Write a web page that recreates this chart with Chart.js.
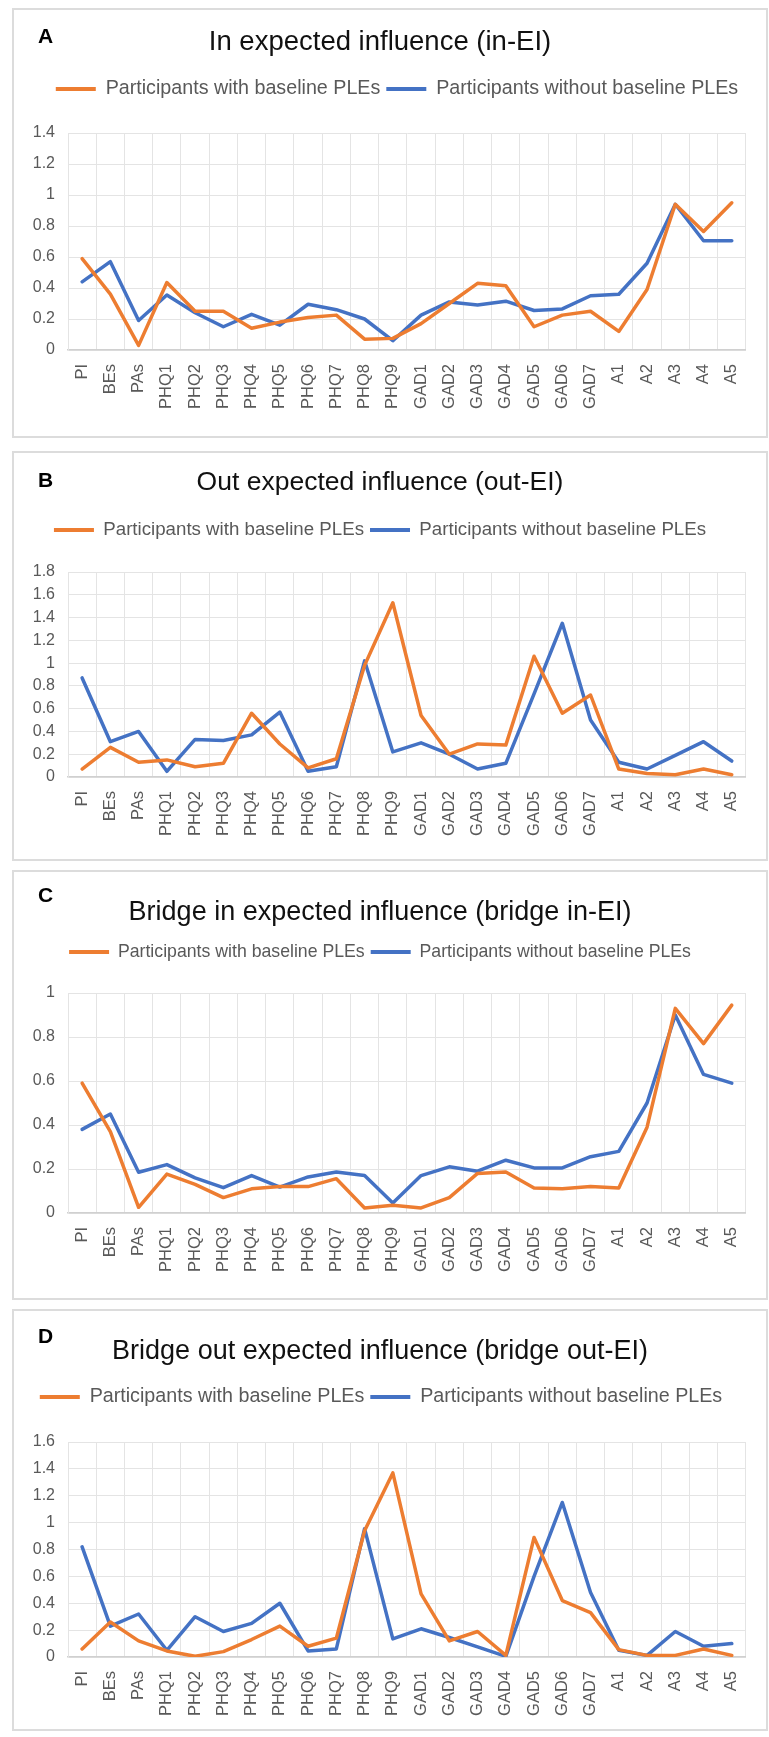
<!DOCTYPE html>
<html>
<head>
<meta charset="utf-8">
<title>Expected influence centrality</title>
<script src="https://cdn.jsdelivr.net/npm/chart.js@4.4.1/dist/chart.umd.min.js"></script>
<style>
  body { margin: 0; background: #fff; }
  .panel { position: absolute; left: 12px; width: 752px; border: 2px solid #dcdcdc; background: #fff; }
  .panel canvas { display: block; }
  .letter { position: absolute; left: 24px; font-family: "Liberation Sans", Arial, sans-serif; font-size: 21px; line-height: 21px; font-weight: bold; color: #000; }
</style>
</head>
<body>
<div class="panel" id="panelA"><canvas id="chartA"></canvas><span class="letter">A</span></div>
<div class="panel" id="panelB"><canvas id="chartB"></canvas><span class="letter">B</span></div>
<div class="panel" id="panelC"><canvas id="chartC"></canvas><span class="letter">C</span></div>
<div class="panel" id="panelD"><canvas id="chartD"></canvas><span class="letter">D</span></div>

<script>
// Nodes on the x axis
const categories = ["PI", "BEs", "PAs",
  "PHQ1", "PHQ2", "PHQ3", "PHQ4", "PHQ5", "PHQ6", "PHQ7", "PHQ8", "PHQ9",
  "GAD1", "GAD2", "GAD3", "GAD4", "GAD5", "GAD6", "GAD7",
  "A1", "A2", "A3", "A4", "A5"];

const seriesNames = ["Participants with baseline PLEs", "Participants without baseline PLEs"];

// A: in expected influence
const inEIWith    = [0.59, 0.36, 0.03, 0.435, 0.25, 0.25, 0.14, 0.18, 0.21, 0.225, 0.07, 0.075, 0.17, 0.30, 0.43, 0.415, 0.15, 0.225, 0.25, 0.12, 0.39, 0.94, 0.765, 0.95];
const inEIWithout = [0.44, 0.57, 0.19, 0.355, 0.24, 0.15, 0.23, 0.16, 0.295, 0.26, 0.20, 0.06, 0.225, 0.31, 0.29, 0.315, 0.255, 0.265, 0.35, 0.36, 0.56, 0.94, 0.705, 0.705];

// B: out expected influence
const outEIWith    = [0.07, 0.26, 0.13, 0.15, 0.09, 0.12, 0.56, 0.29, 0.08, 0.16, 0.98, 1.53, 0.54, 0.20, 0.29, 0.28, 1.06, 0.56, 0.72, 0.07, 0.03, 0.02, 0.07, 0.02];
const outEIWithout = [0.87, 0.31, 0.40, 0.05, 0.33, 0.32, 0.37, 0.57, 0.05, 0.09, 1.02, 0.22, 0.30, 0.20, 0.07, 0.12, 0.73, 1.35, 0.50, 0.13, 0.07, 0.19, 0.31, 0.14];

// C: bridge in expected influence
const bridgeInWith    = [0.59, 0.37, 0.026, 0.177, 0.13, 0.07, 0.11, 0.12, 0.12, 0.156, 0.023, 0.035, 0.023, 0.07, 0.18, 0.186, 0.114, 0.11, 0.12, 0.114, 0.39, 0.93, 0.77, 0.945];
const bridgeInWithout = [0.38, 0.45, 0.185, 0.22, 0.16, 0.115, 0.17, 0.118, 0.164, 0.186, 0.17, 0.045, 0.17, 0.21, 0.19, 0.24, 0.205, 0.205, 0.256, 0.28, 0.50, 0.90, 0.63, 0.59];

// D: bridge out expected influence
const bridgeOutWith    = [0.06, 0.26, 0.12, 0.045, 0.005, 0.04, 0.13, 0.23, 0.08, 0.14, 0.94, 1.37, 0.47, 0.12, 0.19, 0.012, 0.89, 0.42, 0.33, 0.055, 0.012, 0.012, 0.06, 0.012];
const bridgeOutWithout = [0.82, 0.23, 0.32, 0.05, 0.30, 0.19, 0.25, 0.40, 0.045, 0.06, 0.955, 0.135, 0.21, 0.145, 0.075, 0.005, 0.60, 1.15, 0.48, 0.05, 0.012, 0.19, 0.08, 0.10];

// y axis tops and tick step
const yMaxes = [1.4, 1.8, 1, 1.6];
const yStep = 0.2;

const titles = ["In expected influence (in-EI)", "Out expected influence (out-EI)",
  "Bridge in expected influence (bridge in-EI)", "Bridge out expected influence (bridge out-EI)"];

const orange = "#ED7D31";
const blue = "#4472C4";
const gridColor = "#e4e4e4";
const textGrey = "#595959";

Chart.defaults.font.family = '"Liberation Sans", Arial, sans-serif';

// panel placement (page px) and where things sit inside each panel
const panels = [
  { id: "A", top: 8,    height: 426, titleSize: 27.5, titleMid: 32,   legendSize: 19.7, legendMid: 79, legendShift: 17, plotTop: 123, plotBottom: 340, letterBase: 33 },
  { id: "B", top: 451,  height: 406, titleSize: 26.5, titleMid: 29.5, legendSize: 18.7, legendMid: 77, legendShift: 0,  plotTop: 119, plotBottom: 324, letterBase: 34 },
  { id: "C", top: 870,  height: 426, titleSize: 27,   titleMid: 41,   legendSize: 17.7, legendMid: 80, legendShift: 0,  plotTop: 121, plotBottom: 341, letterBase: 30 },
  { id: "D", top: 1309, height: 418, titleSize: 27,   titleMid: 41,   legendSize: 19.7, legendMid: 86, legendShift: 1,  plotTop: 131, plotBottom: 346, letterBase: 32 }
];
const canvasWidth = 752;
const plotLeft = 54;
const plotRight = 732;
const legendPad = 6;

function makeChart(p, title, withData, withoutData, yMax) {
  const panel = document.getElementById("panel" + p.id);
  panel.style.top = p.top + "px";
  panel.style.height = p.height + "px";
  panel.querySelector(".letter").style.top = (p.letterBase - 17.8) + "px";

  const canvas = document.getElementById("chart" + p.id);
  canvas.width = canvasWidth;
  canvas.height = p.height;

  const titleLine = p.titleSize * 1.2;
  const titleTop = p.titleMid - titleLine / 2;
  const legendTop = p.legendMid - legendPad - p.legendSize / 2;

  // legend: fixed height so the plot starts where it should, shifted to match the picture
  const legendPlacement = {
    id: "legendPlacement",
    beforeInit(chart) {
      const fit = chart.legend.fit;
      chart.legend.fit = function () {
        fit.call(this);
        this.height = p.plotTop - legendTop;
      };
    },
    afterLayout(chart) {
      chart.legend.left += p.legendShift;
      chart.legend.right += p.legendShift;
    }
  };

  const lineStyle = { borderWidth: 3.5, pointRadius: 0, pointHoverRadius: 0, tension: 0, fill: false,
    borderJoinStyle: "round", borderCapStyle: "round" };

  return new Chart(canvas.getContext("2d"), {
    type: "line",
    data: {
      labels: categories,
      datasets: [
        Object.assign({ label: seriesNames[0], data: withData, borderColor: orange, backgroundColor: orange }, lineStyle),
        Object.assign({ label: seriesNames[1], data: withoutData, borderColor: blue, backgroundColor: blue }, lineStyle)
      ]
    },
    options: {
      responsive: false,
      animation: false,
      events: [],
      layout: { padding: { left: 0, right: canvasWidth - plotRight, top: 0, bottom: 0 } },
      plugins: {
        title: {
          display: true,
          text: title,
          color: "#111",
          font: { size: p.titleSize, weight: "normal" },
          padding: { top: titleTop, bottom: legendTop - titleTop - titleLine }
        },
        legend: {
          labels: {
            boxWidth: 40,
            boxHeight: 4,
            padding: legendPad,
            color: textGrey,
            font: { size: p.legendSize },
            generateLabels: function (chart) {
              return Chart.defaults.plugins.legend.labels.generateLabels(chart)
                .map(item => Object.assign(item, { lineWidth: 0 }));
            }
          }
        },
        tooltip: { enabled: false }
      },
      scales: {
        x: {
          offset: true,
          grid: { offset: true, color: gridColor, drawTicks: false },
          border: { color: "#d0d0d0", width: 1.5 },
          ticks: { autoSkip: false, minRotation: 90, maxRotation: 90, padding: 14, color: textGrey, font: { size: 16.5 } },
          afterFit: function (scale) { scale.height = p.height - p.plotBottom; }
        },
        y: {
          min: 0,
          max: yMax,
          grid: { color: gridColor, drawTicks: false },
          border: { color: gridColor },
          ticks: {
            stepSize: yStep, padding: 13, color: textGrey, font: { size: 16 },
            // Excel style: 1 rather than 1.0
            callback: function (value) { return String(Number(value.toFixed(1))); }
          },
          afterFit: function (scale) { scale.width = plotLeft; }
        }
      }
    },
    plugins: [legendPlacement]
  });
}

document.addEventListener("DOMContentLoaded", function () {
  makeChart(panels[0], titles[0], inEIWith, inEIWithout, yMaxes[0]);
  makeChart(panels[1], titles[1], outEIWith, outEIWithout, yMaxes[1]);
  makeChart(panels[2], titles[2], bridgeInWith, bridgeInWithout, yMaxes[2]);
  makeChart(panels[3], titles[3], bridgeOutWith, bridgeOutWithout, yMaxes[3]);
});
</script>
</body>
</html>
